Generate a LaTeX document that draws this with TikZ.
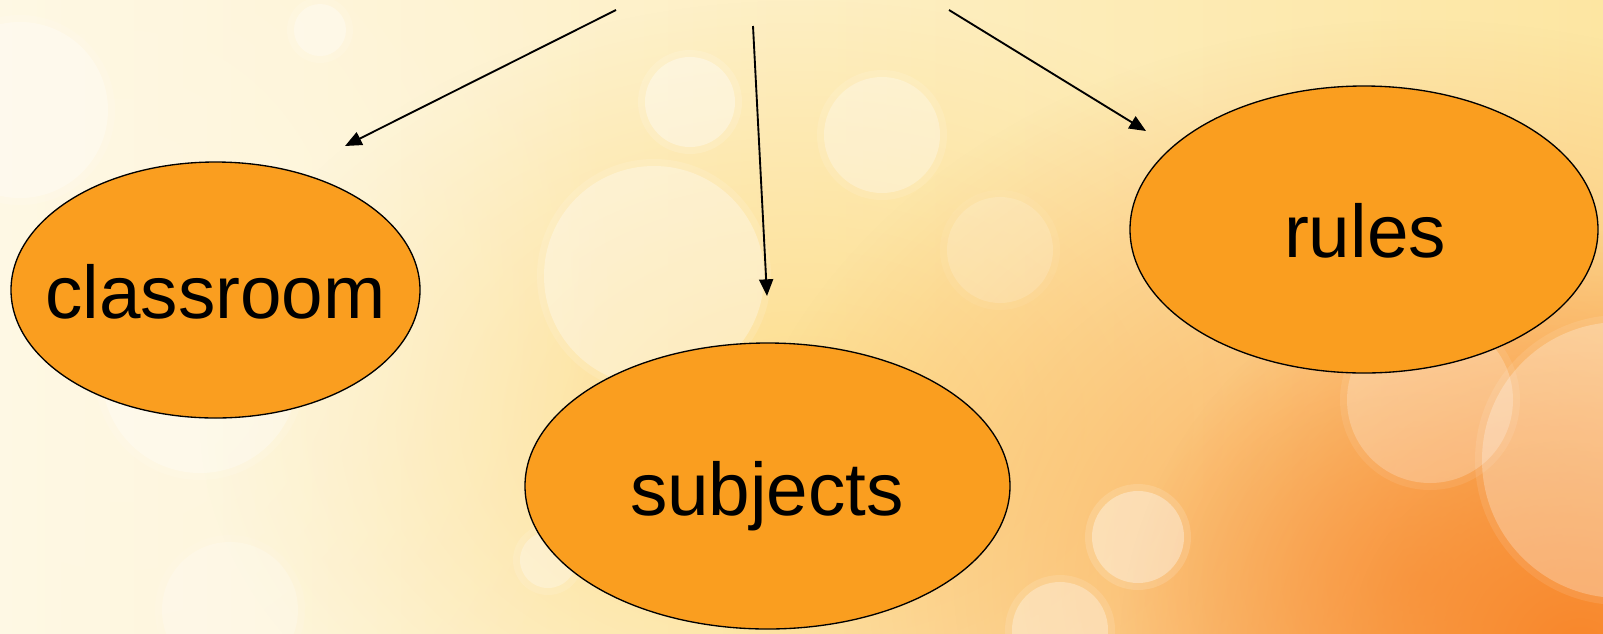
\documentclass[tikz,border=0pt]{standalone}
\usepackage{fontspec}
\setmainfont{Liberation Sans}
\usetikzlibrary{shapes.geometric,arrows.meta,fadings}
\tikzfading[name=glow, inner color=transparent!0, outer color=transparent!100]
\definecolor{bgcream}{HTML}{FEF8E4}
\definecolor{bgyellow}{HTML}{FDE6A2}
\definecolor{bgdeep}{HTML}{FDD980}
\definecolor{bgorange}{HTML}{F8862A}
\definecolor{bubblefill}{HTML}{FA9E1F}
\tikzset{
  bubble/.style={ellipse, draw=black, line width=1pt, fill=bubblefill, inner sep=0pt},
  word/.style={anchor=base, inner sep=0pt, font=\fontsize{56pt}{60pt}\selectfont},
  pointer/.style={draw=black, line width=1.4pt, -{Triangle[length=12.5pt, width=10.5pt]}},
  bokeh/.style={fill=white, opacity=#1},
  bokeh/.default=0.25
}
\newcommand{\softdot}[3]{%
  \fill[bokeh=#3*0.4] (#1) circle [radius=(#2+5)*0.75pt];
  \fill[bokeh=#3] (#1) circle [radius=(#2-2)*0.75pt];}
\begin{document}
\begin{tikzpicture}[x=0.75pt, y=-0.75pt]
\useasboundingbox (0,0) rectangle (1603,633);
% background
\shade[left color=bgcream, right color=bgyellow] (0,0) rectangle (1603,633);
\begin{scope}
\clip (0,0) rectangle (1603,633);
\fill[bgdeep, opacity=0.8, path fading=glow] (800,420) ellipse [x radius=600, y radius=420];
\fill[bgorange, opacity=0.6, path fading=glow] (1420,580) ellipse [x radius=700, y radius=560];
\fill[bgorange, opacity=1, path fading=glow] (1580,650) ellipse [x radius=460, y radius=420];
\fill[bgcream, opacity=0.6, path fading=glow] (120,300) ellipse [x radius=500, y radius=600];
% bokeh circles
\softdot{20,110}{90}{0.28}
\softdot{320,30}{28}{0.3}
\softdot{690,102}{47}{0.35}
\softdot{882,135}{60}{0.28}
\softdot{654,276}{112}{0.3}
\softdot{1000,250}{55}{0.15}
\softdot{1138,537}{48}{0.35}
\softdot{1060,630}{50}{0.3}
\softdot{548,560}{30}{0.28}
\softdot{200,375}{100}{0.28}
\softdot{1620,460}{140}{0.25}
\softdot{1430,400}{85}{0.22}
\softdot{230,610}{70}{0.2}
\end{scope}
% ellipses
\node[bubble, minimum width=409*0.75pt, minimum height=256*0.75pt] (classroom) at (215.5,290) {};
\node[bubble, minimum width=485*0.75pt, minimum height=286*0.75pt] (subjects) at (767.5,486) {};
\node[bubble, minimum width=468*0.75pt, minimum height=287*0.75pt] (rules) at (1364,229.5) {};
\node[word] (tclassroom) at (215.5,318) {classroom};
\node[word] (tsubjects) at (767,515) {subjects};
\node[word] (trules) at (1365,257) {rules};
% arrows
\coordinate (s1) at (616,10);
\coordinate (e1) at (345,146);
\coordinate (s2) at (753,26);
\coordinate (e2) at (767,296);
\coordinate (s3) at (949,10);
\coordinate (e3) at (1146,131);
\draw[pointer] (s1) -- (e1);
\draw[pointer] (s2) -- (e2);
\draw[pointer] (s3) -- (e3);
\end{tikzpicture}
\end{document}
